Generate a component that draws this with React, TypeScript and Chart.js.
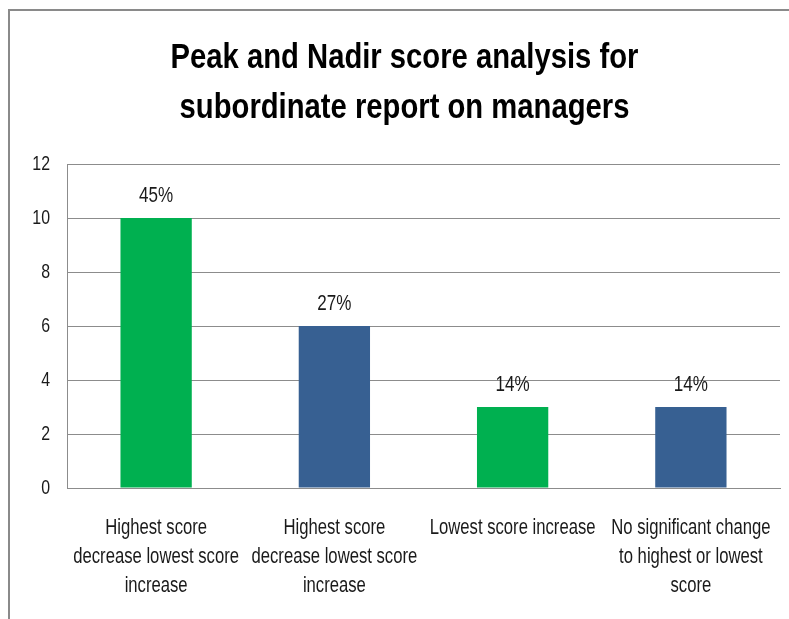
import React, { useEffect, useRef } from "react";
import { Chart, registerables } from "chart.js";

Chart.register(...registerables);

const categories: string[][] = [
  ["Highest score", "decrease lowest score", "increase"],
  ["Highest score", "decrease lowest score", "increase"],
  ["Lowest score increase"],
  ["No significant change", "to highest or lowest", "score"],
];
const counts: number[] = [10, 6, 3, 3];
const percentLabels: string[] = ["45%", "27%", "14%", "14%"];
const barColors: string[] = ["#00B050", "#376092", "#00B050", "#376092"];
const yTicks: number[] = [0, 2, 4, 6, 8, 10, 12];
const titleLines: string[] = [
  "Peak and Nadir score analysis for",
  "subordinate report on managers",
];

const FONT = "'Liberation Sans', Arial, sans-serif";

// horizontal squeeze to mimic the narrow face of the original
function squeezeFor(font: string): number {
  return /bold|700/.test(font) ? 0.835 : 0.775;
}

function narrowContext(ctx: any) {
  if (!ctx || ctx.__narrowed) return;
  ctx.__narrowed = true;
  const origFill = ctx.fillText.bind(ctx);
  const origMeasure = ctx.measureText.bind(ctx);
  ctx.fillText = (text: string, x: number, y: number, maxWidth?: number) => {
    const s = squeezeFor(ctx.font);
    ctx.save();
    ctx.translate(x, y);
    ctx.scale(s, 1);
    if (maxWidth === undefined || maxWidth === null) origFill(text, 0, 0);
    else origFill(text, 0, 0, maxWidth / s);
    ctx.restore();
  };
  ctx.measureText = (text: string) => {
    const s = squeezeFor(ctx.font);
    const m = origMeasure(text);
    return {
      width: m.width * s,
      actualBoundingBoxAscent: m.actualBoundingBoxAscent,
      actualBoundingBoxDescent: m.actualBoundingBoxDescent,
      actualBoundingBoxLeft: m.actualBoundingBoxLeft * s,
      actualBoundingBoxRight: m.actualBoundingBoxRight * s,
      fontBoundingBoxAscent: m.fontBoundingBoxAscent,
      fontBoundingBoxDescent: m.fontBoundingBoxDescent,
    };
  };
}

const framePlugin = {
  id: "frame",
  beforeDraw(chart: any) {
    const ctx = chart.ctx;
    ctx.save();
    ctx.fillStyle = "#ffffff";
    ctx.fillRect(0, 0, chart.width, chart.height);
    ctx.strokeStyle = "#8a8a8a";
    ctx.lineWidth = 2;
    ctx.strokeRect(9, 10, 1000, 1000);
    ctx.restore();
  },
};

const valueLabelPlugin = {
  id: "valueLabels",
  afterDatasetsDraw(chart: any) {
    const ctx = chart.ctx;
    const meta = chart.getDatasetMeta(0);
    ctx.save();
    ctx.font = `22px ${FONT}`;
    ctx.fillStyle = "#1a1a1a";
    ctx.textAlign = "center";
    ctx.textBaseline = "alphabetic";
    meta.data.forEach((bar: any, i: number) => {
      ctx.fillText(percentLabels[i], bar.x, bar.y - 16);
    });
    ctx.restore();
  },
};

export default function App() {
  const canvasRef = useRef<HTMLCanvasElement | null>(null);

  useEffect(() => {
    const canvas = canvasRef.current;
    if (!canvas) return;
    narrowContext(canvas.getContext("2d"));
    const chart = new Chart(canvas, {
      type: "bar",
      data: {
        labels: categories,
        datasets: [
          {
            data: counts,
            backgroundColor: barColors,
            borderWidth: 0,
            barPercentage: 0.4,
            categoryPercentage: 1,
          },
        ],
      },
      options: {
        responsive: false,
        animation: false,
        layout: { padding: { left: 29, right: 9, top: 0, bottom: 0 } },
        plugins: {
          legend: { display: false },
          tooltip: { enabled: false },
          title: {
            display: true,
            text: titleLines,
            color: "#000000",
            font: { family: FONT, size: 35, weight: "bold", lineHeight: 50 / 35 },
            padding: { top: 33, bottom: 31 },
          },
        },
        scales: {
          x: {
            grid: { display: false, drawTicks: false },
            border: { display: true, color: "#8c8c8c", width: 1 },
            ticks: {
              color: "#1a1a1a",
              font: { family: FONT, size: 21.5, lineHeight: 29 / 21.5 },
              padding: 26,
              maxRotation: 0,
              minRotation: 0,
              autoSkip: false,
            },
            afterFit(scale: any) {
              scale.height = 131;
              scale.paddingLeft = 0;
              scale.paddingRight = 0;
            },
          },
          y: {
            min: 0,
            max: 12,
            afterBuildTicks(scale: any) {
              scale.ticks = yTicks.map((v) => ({ value: v }));
            },
            grid: { color: "#8c8c8c", lineWidth: 1, drawTicks: false },
            border: { display: true, color: "#8c8c8c", width: 1 },
            ticks: {
              color: "#1a1a1a",
              font: { family: FONT, size: 20.5 },
              padding: 17,
            },
            afterFit(scale: any) {
              scale.width = 38;
            },
          },
        },
      },
      plugins: [framePlugin, valueLabelPlugin],
    });
    return () => chart.destroy();
  }, []);

  return (
    <div style={{ position: "absolute", left: 0, top: 0, width: 789, height: 619 }}>
      <canvas ref={canvasRef} width={789} height={619} style={{ display: "block" }} />
    </div>
  );
}
